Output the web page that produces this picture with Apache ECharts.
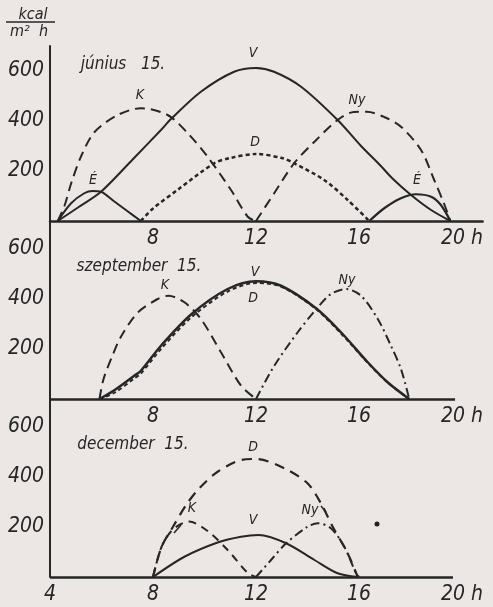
<!DOCTYPE html>
<html>
<head>
<meta charset="utf-8">
<script src="https://cdn.jsdelivr.net/npm/echarts@6/dist/echarts.min.js"></script>
<style>
  html, body { margin: 0; padding: 0; background: #ece6e5; }
  #chart { width: 493px; height: 607px; }
</style>
</head>
<body>
<div id="chart"></div>
<script>
// tick labels
const yTicks = [200, 400, 600];
const xTicksTop = [8, 12, 16, 20];
const xTicksBottom = [4, 8, 12, 16, 20];

// június 15. — [hour, kcal/m2h]
const junV = [[4.3,0],[5.1,55],[5.98,117],[7.2,245],[8.31,364],[8.7,408],[9.86,517],[11.15,597],[12,612],[12.7,597],[13.75,537],[15.17,404],[16.08,300],[16.85,220],[17.3,170],[18.02,104],[18.8,44],[19.55,0]];
const junK = [[4.3,0],[4.56,60],[4.82,150],[5.2,257],[5.72,355],[6.63,424],[7.53,451],[8.57,424],[9.35,351],[10.12,257],[11.03,124],[11.68,17],[12,0]];
const junD = [[7.53,0],[8,50],[9,128],[10.38,231],[11,252],[12,268],[13,252],[13.48,231],[14.65,164],[15.56,84],[16.4,0]];
const junNy = [[12,0],[12.7,110],[13.48,231],[14.3,320],[15.17,404],[15.8,436],[16.3,437],[17.0,415],[17.63,377],[18.41,284],[18.92,164],[19.3,70],[19.55,0]];
const junE1 = [[4.3,0],[4.82,71],[5.33,111],[5.66,120],[5.98,117],[6.5,78],[7.0,40],[7.53,0]];
const junE2 = [[16.4,0],[16.98,51],[17.63,91],[18.21,107],[18.8,97],[19.18,64],[19.55,0]];

// szeptember 15.
const sepV = [[5.92,0],[6.5,35],[7.27,93],[7.53,113],[8.31,213],[9.5,340],[10.9,440],[12,471],[12.97,453],[14.33,363],[15.3,267],[16.34,147],[17.11,67],[17.95,0]];
const sepD = [[5.92,0],[6.5,25],[7.27,82],[7.53,102],[8.31,200],[9.5,328],[10.9,430],[12,464],[12.97,450],[14.33,360],[15.3,262],[16.34,145],[17.11,66],[17.95,0]];
const sepK = [[5.92,0],[6.08,80],[6.43,175],[6.76,250],[7.4,345],[8.18,400],[8.6,413],[9.22,387],[9.86,320],[10.64,187],[11.42,53],[12,0]];
const sepNy = [[12,0],[12.71,133],[13.62,267],[14.4,367],[14.91,420],[15.5,440],[16.08,413],[16.73,320],[17.24,213],[17.63,120],[17.95,0]];

// december 15.
const decV = [[8,0],[9.22,81],[10.51,138],[11.42,161],[12.1,168],[13.17,135],[14.27,68],[15.17,15],[15.95,0]];
const decK = [[8,0],[8.33,120],[8.77,190],[9.4,222],[10.12,184],[10.9,108],[11.68,16],[12,0]];
const decD = [[8,0],[8.33,120],[8.77,200],[9.3,290],[9.8,355],[10.51,421],[11.42,468],[12,472],[13.1,435],[14.0,375],[14.52,295],[14.98,201],[15.56,95],[15.95,0]];
const decNy = [[12,0],[12.6,70],[13.17,135],[14.0,201],[14.4,215],[14.91,195],[15.43,121],[15.88,16],[16,0]];

const ink = "#262626";
const font = "'Liberation Sans Narrow', 'DejaVu Sans Condensed', 'Liberation Sans', sans-serif";
const solid = "solid";
const longDash = [10, 6];
const shortDash = [4, 3];
const dashDot = [9, 4, 2, 4];

const chart = echarts.init(document.getElementById("chart"));

const line = (data, g, type, width) => ({
  type: "line",
  data,
  xAxisIndex: g,
  yAxisIndex: g,
  symbol: "none",
  smooth: 0.3,
  silent: true,
  lineStyle: { color: ink, width: width || 2, type }
});

const baseline = (end) => ({
  silent: true,
  symbol: "none",
  label: { show: false },
  lineStyle: { color: ink, width: 2.5, type: "solid" },
  data: [[{ coord: [4, 0] }, { coord: [end, 0] }]]
});

const xAxis = (g, max, ticks, showLine) => ({
  type: "value",
  gridIndex: g,
  min: 4,
  max,
  interval: 4,
  axisLine: { show: showLine, lineStyle: { color: ink, width: 2.5 } },
  axisTick: { show: false },
  splitLine: { show: false },
  axisLabel: {
    margin: 7,
    color: ink,
    fontSize: 21,
    fontStyle: "italic",
    fontFamily: font,
    formatter: (v) => (ticks.includes(v) ? (v === 20 ? "20 h" : String(v)) : "")
  }
});

const yAxis = (g, max) => ({
  type: "value",
  gridIndex: g,
  min: 0,
  max,
  interval: 200,
  axisLine: { show: true, lineStyle: { color: ink, width: 2 } },
  axisTick: { show: false },
  splitLine: { show: false },
  axisLabel: {
    margin: 6,
    color: ink,
    fontSize: 21,
    fontStyle: "italic",
    fontFamily: font,
    formatter: (v) => (yTicks.includes(v) ? String(v) : "")
  }
});

const txt = (x, y, text, size) => ({
  type: "text",
  x, y,
  silent: true,
  style: {
    text,
    fill: ink,
    font: "italic " + (size || 14) + "px " + font,
    align: "center",
    verticalAlign: "middle"
  }
});

const option = {
  backgroundColor: "#ece6e5",
  animation: false,
  grid: [
    { left: 50, top: 46, width: 432.6, height: 175 },
    { left: 50, top: 221, width: 412, height: 178 },
    { left: 50, top: 399, width: 412, height: 178 }
  ],
  xAxis: [
    xAxis(0, 20.8, xTicksTop, true),
    xAxis(1, 20, xTicksTop, false),
    xAxis(2, 20, xTicksBottom, false)
  ],
  yAxis: [yAxis(0, 700), yAxis(1, 712), yAxis(2, 712)],
  series: [
    line(junV, 0, solid, 2),
    line(junK, 0, longDash, 2),
    line(junD, 0, shortDash, 2.5),
    line(junNy, 0, longDash, 2),
    line(junE1, 0, solid, 2),
    line(junE2, 0, solid, 2.2),

    Object.assign(line(sepV, 1, solid, 2.5), { markLine: baseline(19.73) }),
    line(sepD, 1, shortDash, 2),
    line(sepK, 1, longDash, 2),
    line(sepNy, 1, dashDot, 2),

    Object.assign(line(decV, 2, solid, 2), { markLine: baseline(19.65) }),
    line(decK, 2, [8, 6], 2),
    line(decD, 2, [10, 7], 2.2),
    line(decNy, 2, dashDot, 2)
  ],
  graphic: [
    // unit
    txt(33, 15, "kcal", 16),
    { type: "line", silent: true, shape: { x1: 6, y1: 22, x2: 55, y2: 22 }, style: { stroke: ink, lineWidth: 1.5 } },
    txt(29, 32, "m\u00b2  h", 16),
    // panel titles
    txt(123, 65, "j\u00fanius   15.", 17),
    txt(139, 267, "szeptember  15.", 17),
    txt(133, 445, "december  15.", 17),
    // curve names, június
    txt(93, 180, "\u00c9"),
    txt(140, 95, "K"),
    txt(253, 53, "V"),
    txt(255, 142, "D"),
    txt(357, 100, "Ny"),
    txt(417, 180, "\u00c9"),
    // szeptember
    txt(165, 285, "K"),
    txt(255, 272, "V"),
    txt(253, 298, "D"),
    txt(347, 280, "Ny"),
    // december
    txt(253, 447, "D"),
    txt(192, 508, "K"),
    { type: "line", silent: true, shape: { x1: 181, y1: 525, x2: 174, y2: 533 }, style: { stroke: ink, lineWidth: 1.5 } },
    txt(253, 520, "V"),
    txt(310, 510, "Ny"),
    { type: "line", silent: true, shape: { x1: 321, y1: 506, x2: 326, y2: 512 }, style: { stroke: ink, lineWidth: 1.5 } },
    // speck
    { type: "circle", silent: true, shape: { cx: 377, cy: 524, r: 2.5 }, style: { fill: "#222" } }
  ]
};

chart.setOption(option);
</script>
</body>
</html>
